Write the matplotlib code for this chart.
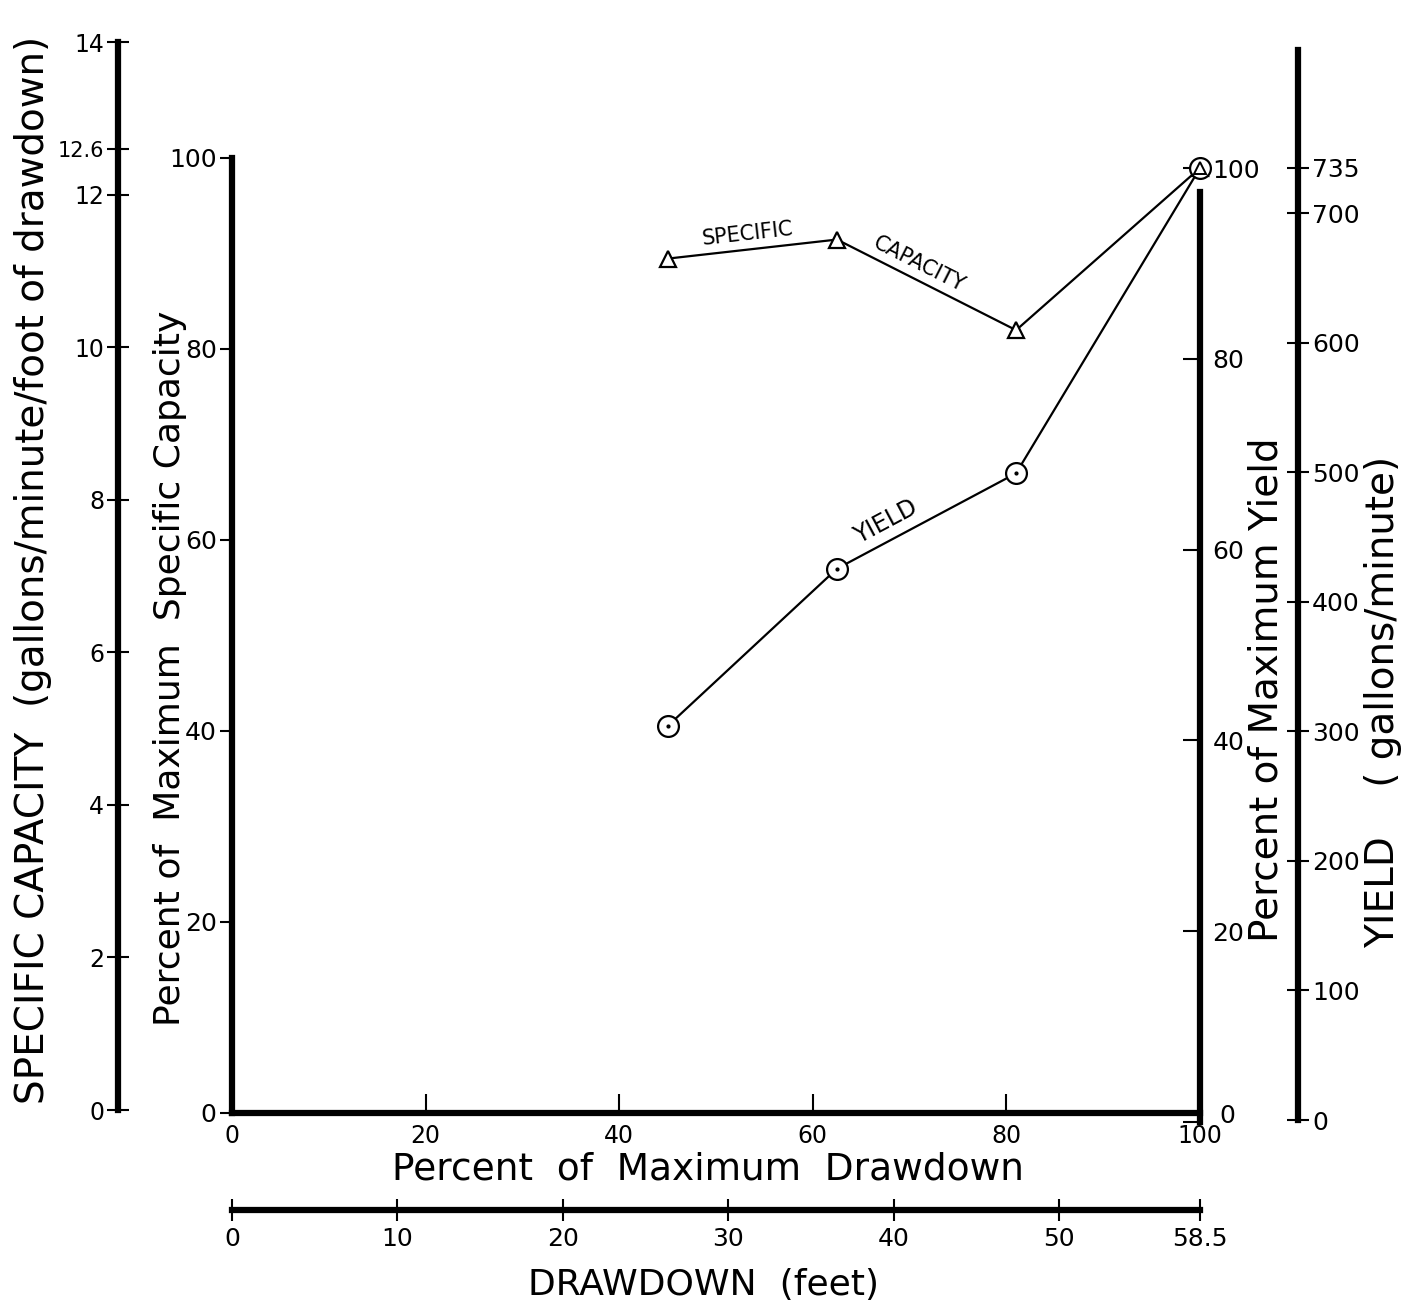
import numpy as np
import matplotlib
matplotlib.use("Agg")
import matplotlib.pyplot as plt

# values
pct_drawdown = [45, 62.5, 81, 100]
pct_spec_cap = [90.5, 92.5, 83, 100]
pct_yield = [41.5, 58, 68, 100]

pct_ticks = [0, 20, 40, 60, 80, 100]
spec_cap_ticks = [0, 2, 4, 6, 8, 10, 12, 12.6, 14]
spec_cap_labels = ["0", "2", "4", "6", "8", "10", "12", "12.6", "14"]
yield_ticks = [0, 100, 200, 300, 400, 500, 600, 700, 735]
drawdown_ticks = [0, 10, 20, 30, 40, 50, 58.5]
drawdown_labels = ["0", "10", "20", "30", "40", "50", "58.5"]

plt.rcParams["font.family"] = ["DejaVu Sans"]
W, H = 1408, 1310
fig = plt.figure(figsize=(W / 100, H / 100), dpi=100)


def px(x0, y0, x1, y1):
    # pixel box (top-left origin) -> figure fraction rect
    return [x0 / W, 1 - y1 / H, (x1 - x0) / W, (y1 - y0) / H]


SPINE = 4.5
FS = 18

# main axes: percent of max drawdown vs percent of max specific capacity
ax = fig.add_axes(px(232, 158, 1200, 1113))
ax.set_xlim(0, 100)
ax.set_ylim(0, 100)
for s in ["top", "right"]:
    ax.spines[s].set_visible(False)
ax.spines["left"].set_linewidth(SPINE)
ax.spines["bottom"].set_linewidth(SPINE)
ax.set_xticks(pct_ticks)
ax.set_yticks(pct_ticks)
ax.tick_params(axis="x", direction="in", length=14, width=1.5, labelsize=17, pad=8)
ax.tick_params(axis="y", direction="out", length=9, width=1.5, labelsize=FS, pad=2)

# right percent-of-yield axis (drawn a little lower, as in the original)
ax2 = fig.add_axes(px(232, 168, 1200, 1122))
ax2.set_xlim(0, 100)
ax2.set_ylim(0, 100)
ax2.patch.set_visible(False)
for s in ["top", "left", "bottom"]:
    ax2.spines[s].set_visible(False)
ax2.spines["right"].set_linewidth(SPINE)
ax2.spines["right"].set_bounds(0, 97.5)
ax2.set_xticks([])
ax2.yaxis.tick_right()
ax2.set_yticks(pct_ticks)
ax2.set_yticklabels([""] + [str(t) for t in pct_ticks[1:]])
ax2.tick_params(axis="y", direction="in", length=12, width=1.5, labelsize=FS, pad=9)
# the 0 of this axis sits a little up and to the right, clear of the 100 below
ax2.annotate("0", xy=(1, 0), xycoords=("axes fraction", "data"), xytext=(20, 4),
             textcoords="offset points", ha="center", va="center", fontsize=FS)

# specific capacity line
ax2.plot(pct_drawdown, pct_spec_cap, color="black", lw=1.6, marker="^", ms=11,
         mfc="white", mec="black", mew=1.6, zorder=5, clip_on=False)
# yield line
ax2.plot(pct_drawdown, pct_yield, color="black", lw=1.6, marker="o", ms=15,
         mfc="white", mec="black", mew=1.6, zorder=5, clip_on=False)
ax2.plot(pct_drawdown[:3], pct_yield[:3], ls="none", marker="o", ms=2,
         color="black", zorder=6)
ax2.plot([pct_drawdown[3]], [pct_spec_cap[3]], ls="none", marker="^", ms=8,
         mfc="none", mec="black", mew=1.4, zorder=7, clip_on=False)


def seg_angle(x, y, i):
    p0 = ax2.transData.transform((x[i], y[i]))
    p1 = ax2.transData.transform((x[i + 1], y[i + 1]))
    return np.degrees(np.arctan2(p1[1] - p0[1], p1[0] - p0[0]))


def label_on(x, y, i, frac, txt, off=12, fs=15):
    ang = seg_angle(x, y, i)
    xm = x[i] + frac * (x[i + 1] - x[i])
    ym = y[i] + frac * (y[i + 1] - y[i])
    ax2.annotate(txt, (xm, ym),
                 xytext=(-off * np.sin(np.radians(ang)), off * np.cos(np.radians(ang))),
                 textcoords="offset points", rotation=ang, rotation_mode="anchor",
                 ha="center", va="center", fontsize=fs)


label_on(pct_drawdown, pct_spec_cap, 0, 0.48, "SPECIFIC", off=11)
label_on(pct_drawdown, pct_spec_cap, 1, 0.42, "CAPACITY", off=11)
label_on(pct_drawdown, pct_yield, 1, 0.32, "YIELD", off=13, fs=17)

# far left specific capacity axis
axc = fig.add_axes(px(118, 42, 119, 1110))
axc.set_ylim(0, 14)
axc.patch.set_visible(False)
for s in ["top", "right", "bottom"]:
    axc.spines[s].set_visible(False)
axc.spines["left"].set_linewidth(SPINE)
axc.set_xticks([])
axc.set_yticks(spec_cap_ticks)
axc.set_yticklabels(spec_cap_labels)
axc.tick_params(axis="y", direction="inout", length=16, width=1.5, labelsize=17, pad=2)
for t in axc.get_yticklabels():
    if t.get_text() == "12.6":
        t.set_fontsize(15)

# far right yield axis
axy = fig.add_axes(px(1297, 50, 1298, 1120))
axy.set_ylim(0, 826)
axy.patch.set_visible(False)
for s in ["top", "left", "bottom"]:
    axy.spines[s].set_visible(False)
axy.spines["right"].set_linewidth(SPINE)
axy.set_xticks([])
axy.yaxis.tick_right()
axy.set_yticks(yield_ticks)
axy.tick_params(axis="y", direction="inout", length=16, width=1.5, labelsize=FS, pad=2)

# bottom drawdown (feet) axis
axd = fig.add_axes(px(232, 1209, 1200, 1210))
axd.set_xlim(0, 58.5)
axd.patch.set_visible(False)
for s in ["top", "left", "right"]:
    axd.spines[s].set_visible(False)
axd.spines["bottom"].set_linewidth(SPINE)
axd.set_yticks([])
axd.set_xticks(drawdown_ticks)
axd.set_xticklabels(drawdown_labels)
axd.tick_params(axis="x", direction="inout", length=16, width=1.5, labelsize=FS, pad=4)

# axis titles
fig.text(33 / W, 1 - 570 / H, "SPECIFIC CAPACITY  (gallons/minute/foot of drawdown)",
         rotation=90, ha="center", va="center", fontsize=28)
fig.text(170 / W, 1 - 668 / H, "Percent of  Maximum  Specific Capacity",
         rotation=90, ha="center", va="center", fontsize=26)
fig.text(1266 / W, 1 - 690 / H, "Percent of Maximum Yield",
         rotation=90, ha="center", va="center", fontsize=28)
fig.text(1383 / W, 1 - 702 / H, "YIELD    ( gallons/minute)",
         rotation=90, ha="center", va="center", fontsize=28)
fig.text(708 / W, 1 - 1170 / H, "Percent  of  Maximum  Drawdown",
         ha="center", va="center", fontsize=27)
fig.text(704 / W, 1 - 1285 / H, "DRAWDOWN  (feet)",
         ha="center", va="center", fontsize=26)

fig.savefig("out.png", dpi=100)
